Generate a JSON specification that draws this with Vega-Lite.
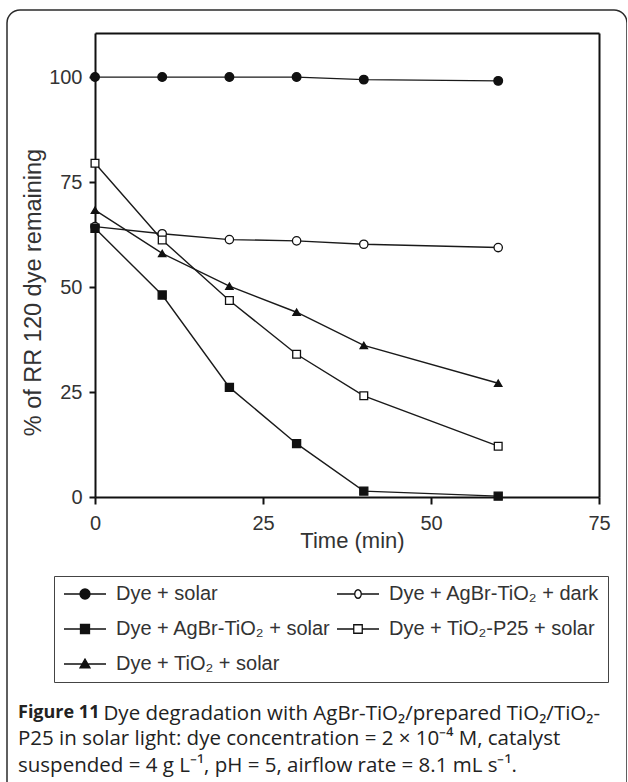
{
  "$schema": "https://vega.github.io/schema/vega-lite/v6.json",
  "autosize": {"type": "none"},
  "padding": {"left": 7, "top": 10, "right": 0, "bottom": 0},
  "background": "white",
  "width": 620,
  "height": 788,
  "view": {"stroke": "#2b2b2b", "strokeWidth": 1.5, "cornerRadius": 13, "fill": "white"},
  "title": {
    "text": "Figure 11",
    "subtitle": ["P25 in solar light: dye concentration = 2 × 10⁻⁴ M, catalyst", "suspended = 4 g L⁻¹, pH = 5, airflow rate = 8.1 mL s⁻¹."],
    "orient": "bottom", "anchor": "start", "frame": "group",
    "dx": 11, "offset": -94,
    "font": "Open Sans", "fontSize": 18, "fontWeight": "bold", "color": "#222",
    "subtitleFont": "Open Sans", "subtitleFontSize": 20.5, "subtitleColor": "#222",
    "subtitleFontWeight": "normal", "subtitlePadding": 7, "subtitleLineHeight": 27
  },
  "data": {"values": [
    {"series": "Dye + solar", "time": 0, "pct": 100},
    {"series": "Dye + solar", "time": 10, "pct": 100},
    {"series": "Dye + solar", "time": 20, "pct": 100},
    {"series": "Dye + solar", "time": 30, "pct": 100},
    {"series": "Dye + solar", "time": 40, "pct": 99.4},
    {"series": "Dye + solar", "time": 60, "pct": 99.1},
    {"series": "Dye + AgBr-TiO₂ + dark", "time": 0, "pct": 64.4},
    {"series": "Dye + AgBr-TiO₂ + dark", "time": 10, "pct": 62.7},
    {"series": "Dye + AgBr-TiO₂ + dark", "time": 20, "pct": 61.3},
    {"series": "Dye + AgBr-TiO₂ + dark", "time": 30, "pct": 61.0},
    {"series": "Dye + AgBr-TiO₂ + dark", "time": 40, "pct": 60.2},
    {"series": "Dye + AgBr-TiO₂ + dark", "time": 60, "pct": 59.4},
    {"series": "Dye + AgBr-TiO₂ + solar", "time": 0, "pct": 64.0},
    {"series": "Dye + AgBr-TiO₂ + solar", "time": 10, "pct": 48.1},
    {"series": "Dye + AgBr-TiO₂ + solar", "time": 20, "pct": 26.1},
    {"series": "Dye + AgBr-TiO₂ + solar", "time": 30, "pct": 12.7},
    {"series": "Dye + AgBr-TiO₂ + solar", "time": 40, "pct": 1.4},
    {"series": "Dye + AgBr-TiO₂ + solar", "time": 60, "pct": 0.2},
    {"series": "Dye + TiO₂-P25 + solar", "time": 0, "pct": 79.5},
    {"series": "Dye + TiO₂-P25 + solar", "time": 10, "pct": 61.2},
    {"series": "Dye + TiO₂-P25 + solar", "time": 20, "pct": 46.8},
    {"series": "Dye + TiO₂-P25 + solar", "time": 30, "pct": 34.0},
    {"series": "Dye + TiO₂-P25 + solar", "time": 40, "pct": 24.1},
    {"series": "Dye + TiO₂-P25 + solar", "time": 60, "pct": 12.1},
    {"series": "Dye + TiO₂ + solar", "time": 0, "pct": 68.3},
    {"series": "Dye + TiO₂ + solar", "time": 10, "pct": 58.0},
    {"series": "Dye + TiO₂ + solar", "time": 20, "pct": 50.2},
    {"series": "Dye + TiO₂ + solar", "time": 30, "pct": 44.0},
    {"series": "Dye + TiO₂ + solar", "time": 40, "pct": 36.1},
    {"series": "Dye + TiO₂ + solar", "time": 60, "pct": 27.1}
  ]},
  "layer": [
    {
      "mark": {"type": "line", "stroke": "#1a1a1a", "strokeWidth": 1.4},
      "encoding": {
        "x": {"field": "time", "type": "quantitative",
          "scale": {"domain": [0, 75], "range": [88, 592], "nice": false, "zero": false},
          "axis": {"orient": "bottom", "offset": -301, "values": [0, 25, 50, 75], "title": "Time (min)", "grid": false,
            "tickSize": 7, "tickWidth": 2, "tickColor": "#111", "domainColor": "#111", "domainWidth": 2,
            "labelFont": "Liberation Sans", "labelFontSize": 20, "labelColor": "#333", "labelPadding": 9,
            "labelFlush": false, "labelOverlap": false,
            "titleFont": "Liberation Sans", "titleFontSize": 22, "titleFontWeight": "normal", "titleColor": "#333",
            "titleBaseline": "top", "titleAlign": "center", "titleX": 345, "titleY": 33}},
        "y": {"field": "pct", "type": "quantitative",
          "scale": {"domain": [0, 110.5], "range": [487, 23], "nice": false},
          "axis": {"orient": "left", "offset": -88, "values": [0, 25, 50, 75, 100], "title": "% of RR 120 dye remaining", "grid": false,
            "tickSize": 6, "tickWidth": 2, "tickColor": "#111", "domainColor": "#111", "domainWidth": 2,
            "labelFont": "Liberation Sans", "labelFontSize": 20, "labelColor": "#333", "labelPadding": 7,
            "labelOverlap": false,
            "titleFont": "Liberation Sans", "titleFontSize": 23.5, "titleFontWeight": "normal", "titleColor": "#333",
            "titleBaseline": "alphabetic", "titleAlign": "center", "titleAngle": 270, "titleX": -55, "titleY": 282}},
        "detail": {"field": "series", "type": "nominal"}
      }
    },
    {
      "mark": {"type": "point", "filled": true, "stroke": "#111", "strokeWidth": 1.3, "opacity": 1},
      "encoding": {
        "x": {"field": "time", "type": "quantitative",
          "axis": {"orient": "top", "offset": -23, "labels": false, "ticks": false, "grid": false, "title": null,
            "domainColor": "#111", "domainWidth": 2}},
        "y": {"field": "pct", "type": "quantitative",
          "axis": {"orient": "right", "offset": -28, "labels": false, "ticks": false, "grid": false,
            "domainColor": "#111", "domainWidth": 2,
            "title": "Dye degradation with AgBr-TiO₂/prepared TiO₂/TiO₂-",
            "titleFont": "Open Sans", "titleFontSize": 20.5, "titleFontWeight": "normal", "titleColor": "#222",
            "titleAngle": 0, "titleAlign": "left", "titleBaseline": "top", "titleX": -496, "titleY": 693}},
        "shape": {"field": "series", "type": "nominal", "legend": null,
          "scale": {"domain": ["Dye + solar", "Dye + AgBr-TiO₂ + dark", "Dye + AgBr-TiO₂ + solar", "Dye + TiO₂-P25 + solar", "Dye + TiO₂ + solar"],
            "range": ["circle", "circle", "square", "square", "triangle-up"]}},
        "fill": {"field": "series", "type": "nominal", "legend": null,
          "scale": {"domain": ["Dye + solar", "Dye + AgBr-TiO₂ + dark", "Dye + AgBr-TiO₂ + solar", "Dye + TiO₂-P25 + solar", "Dye + TiO₂ + solar"],
            "range": ["#111", "#fff", "#111", "#fff", "#111"]}},
        "size": {"field": "series", "type": "nominal", "legend": null,
          "scale": {"domain": ["Dye + solar", "Dye + AgBr-TiO₂ + dark", "Dye + AgBr-TiO₂ + solar", "Dye + TiO₂-P25 + solar", "Dye + TiO₂ + solar"],
            "range": [75, 55, 90, 60, 70]}}
      }
    },
    {
      "transform": [{"filter": "false"}],
      "mark": {"type": "point", "filled": true, "strokeWidth": 1.3, "size": 100, "opacity": 1},
      "encoding": {
        "shape": {"field": "series", "type": "nominal",
          "scale": {"domain": ["Dye + solar", "Dye + AgBr-TiO₂ + dark", "Dye + AgBr-TiO₂ + solar", "Dye + TiO₂-P25 + solar", "Dye + TiO₂ + solar"],
            "range": [
              "M-4.2,0H4.2M-1,0A1,1,0,1,1,1,0A1,1,0,1,1,-1,0Z",
              "M-4.2,0H-0.65M0.65,0H4.2M-0.65,0A0.65,0.85,0,1,1,0.65,0A0.65,0.85,0,1,1,-0.65,0Z",
              "M-4.2,0H4.2M-0.9,-0.9H0.9V0.9H-0.9Z",
              "M-4.2,0H-0.85M0.85,0H4.2M-0.85,-0.85H0.85V0.85H-0.85Z",
              "M-4.2,0H4.2M0,-1L1,0.75H-1Z"
            ]},
          "legend": {"title": null, "orient": "none", "legendX": 47, "legendY": 566, "columns": 2, "direction": "horizontal",
            "strokeColor": "#444", "fillColor": "#fff", "padding": 8,
            "rowPadding": 15, "columnPadding": 3, "labelFont": "Liberation Sans", "labelFontSize": 20,
            "labelColor": "#333", "labelLimit": 0, "labelOffset": 21, "symbolOffset": 13, "symbolSize": 100,
            "symbolStrokeWidth": 1.3}},
        "fill": {"field": "series", "type": "nominal",
          "scale": {"domain": ["Dye + solar", "Dye + AgBr-TiO₂ + dark", "Dye + AgBr-TiO₂ + solar", "Dye + TiO₂-P25 + solar", "Dye + TiO₂ + solar"],
            "range": ["#111", "#fff", "#111", "#fff", "#111"]},
          "legend": {"title": null, "orient": "none", "legendX": 47, "legendY": 566, "columns": 2, "direction": "horizontal",
            "strokeColor": "#444", "fillColor": "#fff", "padding": 8,
            "rowPadding": 15, "columnPadding": 3, "labelFont": "Liberation Sans", "labelFontSize": 20,
            "labelColor": "#333", "labelLimit": 0, "labelOffset": 21, "symbolOffset": 13, "symbolSize": 100,
            "symbolStrokeWidth": 1.3}},
        "stroke": {"field": "series", "type": "nominal",
          "scale": {"domain": ["Dye + solar", "Dye + AgBr-TiO₂ + dark", "Dye + AgBr-TiO₂ + solar", "Dye + TiO₂-P25 + solar", "Dye + TiO₂ + solar"],
            "range": ["#111", "#111", "#111", "#111", "#111"]},
          "legend": {"title": null, "orient": "none", "legendX": 47, "legendY": 566, "columns": 2, "direction": "horizontal",
            "strokeColor": "#444", "fillColor": "#fff", "padding": 8,
            "rowPadding": 15, "columnPadding": 3, "labelFont": "Liberation Sans", "labelFontSize": 20,
            "labelColor": "#333", "labelLimit": 0, "labelOffset": 21, "symbolOffset": 13, "symbolSize": 100,
            "symbolStrokeWidth": 1.3}}
      }
    }
  ],
  "resolve": {
    "scale": {"shape": "independent", "fill": "independent", "size": "independent", "stroke": "independent"},
    "axis": {"x": "independent", "y": "independent"}
  },
  "config": {"font": "Liberation Sans"}
}
